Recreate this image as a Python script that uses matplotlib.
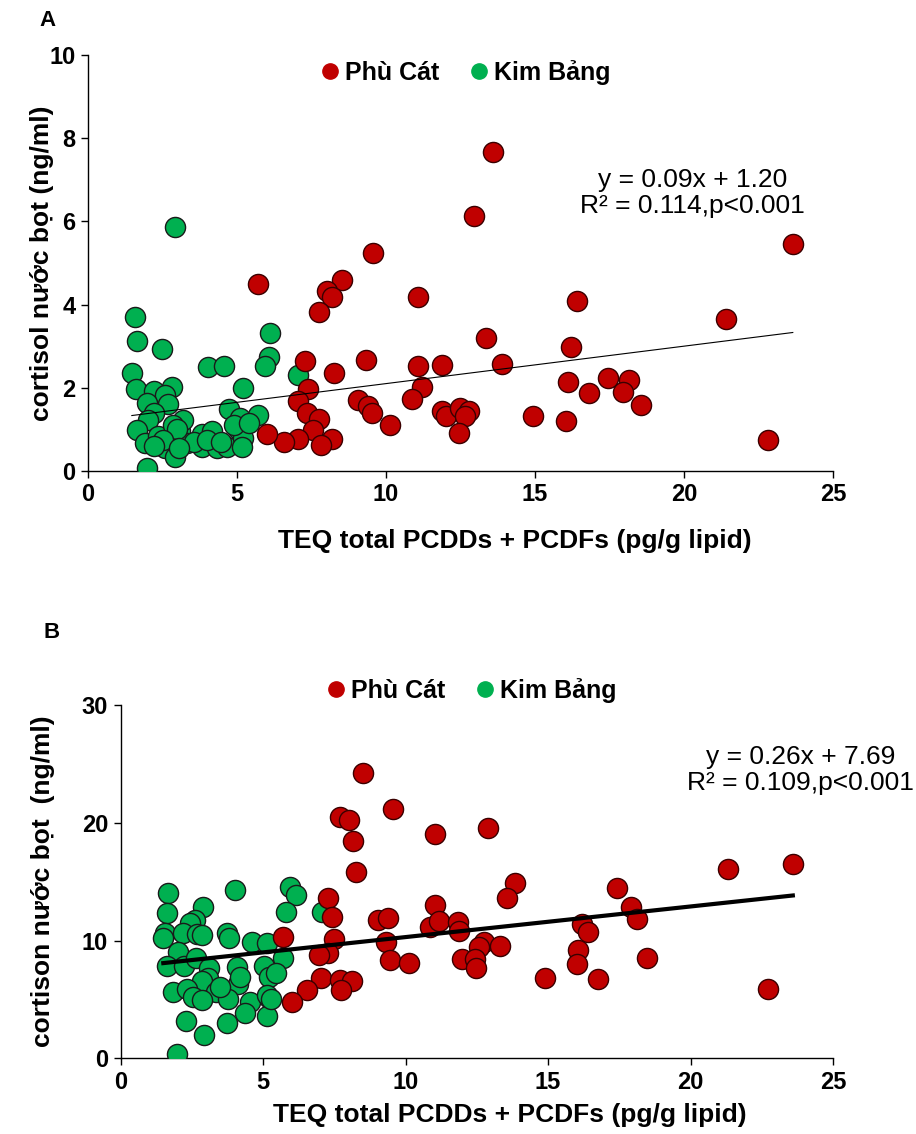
import numpy as np
import matplotlib
matplotlib.use("Agg")
import matplotlib.pyplot as plt
from matplotlib.lines import Line2D

plt.rcParams['font.family'] = ['Liberation Sans', 'DejaVu Sans']

# ---- Panel A: cortisol ----
a_phucat_x = [5.72, 8.51, 8.03, 8.20, 7.75, 7.28, 8.26, 7.37, 7.06, 7.34, 7.75, 7.56, 8.18,
              7.81, 7.06, 6.58, 6.02, 9.05, 13.58, 12.96, 9.57, 11.06, 16.42, 13.36, 16.21,
              9.33, 11.06, 11.89, 13.88, 11.20, 16.12, 16.82, 9.41, 9.54, 10.87, 11.87, 12.01,
              12.48, 12.80, 12.65, 12.46, 10.13, 14.94, 16.03, 23.65, 21.40, 17.46, 18.15,
              17.94, 18.55, 22.81]
a_phucat_y = [4.50, 4.59, 4.33, 4.19, 3.81, 2.65, 2.35, 1.96, 1.68, 1.40, 1.25, 0.99, 0.76,
              0.63, 0.76, 0.70, 0.88, 1.71, 7.66, 6.14, 5.23, 4.17, 4.08, 3.19, 2.97,
              2.67, 2.52, 2.55, 2.57, 2.01, 2.15, 1.88, 1.55, 1.39, 1.72, 1.43, 1.33,
              1.51, 1.45, 1.32, 0.92, 1.11, 1.31, 1.19, 5.46, 3.65, 2.23, 2.19,
              1.91, 1.59, 0.75]
a_kimbang_x = [2.92, 1.58, 1.66, 2.47, 1.47, 1.60, 2.21, 2.81, 2.58, 2.70, 1.97, 2.21, 2.02,
               1.66, 1.91, 2.36, 2.58, 2.92, 1.97, 3.09, 3.20, 3.31, 3.81, 4.15, 3.81, 4.32,
               4.65, 4.04, 4.56, 5.19, 4.74, 5.10, 5.04, 5.21, 5.16, 5.71, 6.11, 6.06, 5.94,
               7.06, 2.85, 3.00, 2.50, 3.55, 4.00, 4.90, 2.20, 3.05, 4.45, 5.40]
a_kimbang_y = [5.87, 3.71, 3.13, 2.92, 2.36, 1.96, 1.93, 2.03, 1.83, 1.61, 1.64, 1.39, 1.23,
               0.99, 0.68, 0.83, 0.55, 0.33, 0.06, 0.95, 1.23, 0.67, 0.90, 0.95, 0.58, 0.55,
               0.58, 2.49, 2.52, 1.99, 1.48, 1.27, 1.00, 0.79, 0.58, 1.35, 3.31, 2.75, 2.52,
               2.31, 1.10, 1.00, 0.75, 0.70, 0.75, 1.10, 0.60, 0.55, 0.70, 1.15]
a_slope, a_intercept = 0.09, 1.20
a_eq = ["y = 0.09x + 1.20", "R\u00b2 = 0.114,p<0.001"]

# ---- Panel B: cortison ----
b_phucat_x = [5.71, 7.29, 7.41, 7.50, 7.29, 6.98, 7.02, 6.55, 6.00, 7.70, 8.11, 7.73, 8.52,
              9.55, 7.70, 8.03, 11.04, 12.90, 8.17, 8.26, 13.84, 13.55, 11.04, 9.05, 9.37,
              10.86, 11.19, 11.85, 11.89, 9.32, 9.46, 10.13, 12.75, 12.59, 13.32, 11.97,
              12.44, 12.47, 14.89, 23.59, 21.33, 17.41, 17.91, 18.11, 16.18, 16.39, 16.06,
              16.00, 18.48, 16.76, 22.73]
b_phucat_y = [10.33, 13.59, 12.03, 10.11, 8.92, 8.78, 6.80, 5.80, 4.81, 6.65, 6.53, 5.80, 24.21,
              21.18, 20.47, 20.25, 19.03, 19.54, 18.49, 15.86, 14.87, 13.59, 13.02, 11.75, 11.95,
              11.13, 11.69, 11.61, 10.84, 9.91, 8.35, 8.12, 9.91, 9.43, 9.54, 8.41,
              8.41, 7.65, 6.85, 16.51, 16.08, 14.50, 12.88, 11.81, 11.38, 10.71, 9.20,
              8.01, 8.49, 6.74, 5.89]
b_kimbang_x = [1.68, 1.62, 1.56, 1.50, 2.91, 2.61, 2.44, 2.20, 2.69, 2.85, 4.02, 3.75, 3.81,
               4.60, 5.15, 5.95, 6.15, 5.81, 7.08, 5.69, 2.03, 1.64, 2.23, 2.65, 3.12, 3.08,
               2.85, 4.08, 4.13, 4.19, 5.04, 5.22, 5.46, 3.35, 1.85, 2.34, 2.53, 2.85, 3.78,
               4.54, 4.37, 5.22, 5.13, 5.15, 2.30, 3.73, 2.93, 1.97, 3.49, 5.27]
b_kimbang_y = [14.07, 12.37, 10.62, 10.20, 12.88, 11.75, 11.47, 10.62, 10.56, 10.48, 14.30, 10.62,
               10.20, 9.91, 9.82, 14.58, 13.87, 12.46, 12.46, 8.50, 9.06, 7.84, 7.84, 8.50, 7.65,
               6.80, 6.59, 7.78, 6.31, 6.93, 7.84, 6.93, 7.22, 5.66, 5.66, 5.86, 5.24, 4.95,
               5.01, 4.81, 3.82, 5.10, 5.38, 3.59, 3.19, 2.97, 1.98, 0.37, 6.08, 5.01]
b_slope, b_intercept = 0.26, 7.69
b_eq = ["y = 0.26x + 7.69", "R\u00b2 = 0.109,p<0.001"]

RED = '#C00000'
GREEN = '#00B050'
xlabel = "TEQ total PCDDs + PCDFs (pg/g lipid)"


def draw_panel(ax, px, py, kx, ky, slope, intercept, line_w, ymax, ystep, ylabel, eq, eq_xy,
               leg_xy, xlab_xy, ylab_x):
    ax.scatter(kx, ky, s=210, c=GREEN, edgecolors='#1a1a1a', linewidths=1.0, zorder=3)
    ax.scatter(px, py, s=210, c=RED, edgecolors='#3a0000', linewidths=1.0, zorder=3)
    allx = np.array(px + kx)
    xs = np.array([allx.min(), allx.max()])
    ax.plot(xs, slope * xs + intercept, color='black', lw=line_w, zorder=4)

    ax.set_xlim(0, 25)
    ax.set_ylim(0, ymax)
    ax.set_xticks(np.arange(0, 26, 5))
    ax.set_yticks(np.arange(0, ymax + 0.1, ystep))
    for s in ['top', 'right']:
        ax.spines[s].set_visible(False)
    for s in ['left', 'bottom']:
        ax.spines[s].set_linewidth(1.0)
    ax.tick_params(direction='out', length=5, width=1, pad=4, labelsize=17)
    for lab in ax.get_xticklabels() + ax.get_yticklabels():
        lab.set_fontweight('bold')
    ax.set_xlabel(xlabel, fontsize=19, fontweight='bold')
    ax.xaxis.set_label_coords(*xlab_xy)
    ax.set_ylabel(ylabel, fontsize=19, fontweight='bold')
    ax.yaxis.set_label_coords(ylab_x, 0.5)
    ax.text(eq_xy[0], eq_xy[1], eq[0] + "\n" + eq[1], transform=ax.transAxes,
            ha='center', va='center', fontsize=19, linespacing=1.1)

    handles = [Line2D([], [], ls='none', marker='o', ms=11, mfc=RED, mec=RED),
               Line2D([], [], ls='none', marker='o', ms=11, mfc=GREEN, mec=GREEN)]
    ax.legend(handles, ['Phù Cát', 'Kim Bảng'], loc='center', bbox_to_anchor=leg_xy,
              ncol=2, frameon=False, handletextpad=0.0, columnspacing=1.0,
              handlelength=1.2, prop={'weight': 'bold', 'size': 18})


fig = plt.figure(figsize=(9.16, 11.34), dpi=100)

axA = fig.add_axes([0.0961, 0.5847, 0.8133, 0.3668])
draw_panel(axA, a_phucat_x, a_phucat_y, a_kimbang_x, a_kimbang_y, a_slope, a_intercept,
           0.8, 10, 2, "cortisol nước bọt (ng/ml)", a_eq, (0.811, 0.669),
           (0.503, 0.959), (0.573, -0.139), -0.046)

axB = fig.add_axes([0.1316, 0.0668, 0.7778, 0.3115])
draw_panel(axB, b_phucat_x, b_phucat_y, b_kimbang_x, b_kimbang_y, b_slope, b_intercept,
           3.0, 30, 10, "cortison nước bọt  (ng/ml)", b_eq, (0.954, 0.816),
           (0.489, 1.042), (0.547, -0.127), -0.092)

fig.text(48 / 916, 1 - 20 / 1134, 'A', fontsize=16, fontweight='bold', ha='center', va='center')
fig.text(52 / 916, 1 - 633 / 1134, 'B', fontsize=16, fontweight='bold', ha='center', va='center')

fig.savefig('out.png', dpi=100)
